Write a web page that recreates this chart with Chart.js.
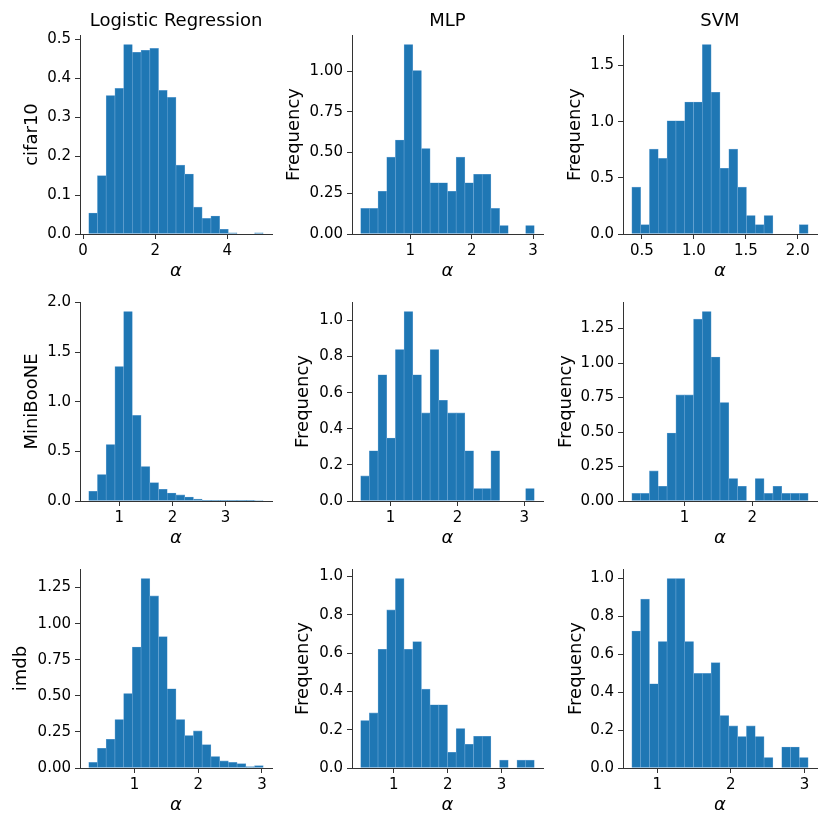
<!DOCTYPE html>
<html>
<head>
<meta charset="utf-8">
<script src="https://cdn.jsdelivr.net/npm/chart.js@4.4.1/dist/chart.umd.min.js"></script>
<style>
  body { margin: 0; background: #fff; }
  canvas { position: absolute; }
</style>
</head>
<body>
<script>
// column / row names
const models = ['Logistic Regression', 'MLP', 'SVM'];
const datasetNames = ['cifar10', 'MiniBooNE', 'imdb'];

// each histogram: [first bin edge, last bin edge], 20 bin heights, tick labels
const lrCifarBins = [0.155, 5.0];
const lrCifarHeights = [0.054, 0.150, 0.356, 0.374, 0.487, 0.467, 0.472, 0.477, 0.369, 0.351,
                        0.177, 0.154, 0.069, 0.040, 0.046, 0.012, 0.003, 0, 0, 0.003];
const lrCifarYTicks = ['0.0', '0.1', '0.2', '0.3', '0.4', '0.5'];
const lrCifarXTicks = ['0', '2', '4'];

const mlpCifarBins = [0.19, 3.02];
const mlpCifarHeights = [0.157, 0.157, 0.262, 0.472, 0.577, 1.164, 1.004, 0.525, 0.315, 0.315,
                         0.262, 0.472, 0.315, 0.367, 0.367, 0.157, 0.052, 0, 0, 0.052];
const mlpCifarYTicks = ['0.00', '0.25', '0.50', '0.75', '1.00'];
const mlpCifarXTicks = ['1', '2', '3'];

const svmCifarBins = [0.403, 2.10];
const svmCifarHeights = [0.417, 0.083, 0.756, 0.673, 1.009, 1.009, 1.176, 1.176, 1.688, 1.262,
                         0.586, 0.756, 0.417, 0.164, 0.083, 0.164, 0, 0, 0, 0.083];
const svmCifarYTicks = ['0.0', '0.5', '1.0', '1.5'];
const svmCifarXTicks = ['0.5', '1.0', '1.5', '2.0'];

const lrMiniBins = [0.423, 3.71];
const lrMiniHeights = [0.098, 0.266, 0.569, 1.354, 1.909, 0.862, 0.347, 0.185, 0.118, 0.081,
                       0.061, 0.040, 0.020, 0.008, 0.004, 0.003, 0.002, 0.001, 0.001, 0.005];
const lrMiniYTicks = ['0.0', '0.5', '1.0', '1.5', '2.0'];
const lrMiniXTicks = ['1', '2', '3'];

const mlpMiniBins = [0.554, 3.149];
const mlpMiniHeights = [0.139, 0.278, 0.699, 0.349, 0.839, 1.050, 0.699, 0.488, 0.839, 0.558,
                        0.488, 0.488, 0.278, 0.069, 0.069, 0.278, 0, 0, 0, 0.069];
const mlpMiniYTicks = ['0.0', '0.2', '0.4', '0.6', '0.8', '1.0'];
const mlpMiniXTicks = ['1', '2', '3'];

const svmMiniBins = [0.223, 2.827];
const svmMiniHeights = [0.055, 0.055, 0.218, 0.107, 0.493, 0.769, 0.769, 1.318, 1.374, 1.044,
                        0.714, 0.163, 0.107, 0, 0.163, 0.055, 0.107, 0.055, 0.055, 0.055];
const svmMiniYTicks = ['0.00', '0.25', '0.50', '0.75', '1.00', '1.25'];
const svmMiniXTicks = ['1', '2'];

const lrImdbBins = [0.279, 3.02];
const lrImdbHeights = [0.039, 0.137, 0.199, 0.336, 0.516, 0.838, 1.313, 1.192, 0.910, 0.549,
                       0.336, 0.225, 0.257, 0.162, 0.079, 0.049, 0.039, 0.030, 0.009, 0.016];
const lrImdbYTicks = ['0.00', '0.25', '0.50', '0.75', '1.00', '1.25'];
const lrImdbXTicks = ['1', '2', '3'];

const mlpImdbBins = [0.385, 3.609];
const mlpImdbHeights = [0.248, 0.288, 0.620, 0.826, 0.990, 0.620, 0.660, 0.412, 0.330, 0.330,
                        0.082, 0.206, 0.124, 0.166, 0.166, 0, 0.041, 0, 0.041, 0.041];
const mlpImdbYTicks = ['0.0', '0.2', '0.4', '0.6', '0.8', '1.0'];
const mlpImdbXTicks = ['1', '2', '3'];

const svmImdbBins = [0.654, 3.05];
const svmImdbHeights = [0.723, 0.891, 0.444, 0.667, 1.000, 1.000, 0.667, 0.499, 0.499, 0.556,
                        0.277, 0.222, 0.166, 0.222, 0.166, 0.055, 0, 0.111, 0.111, 0.055];
const svmImdbYTicks = ['0.0', '0.2', '0.4', '0.6', '0.8', '1.0'];
const svmImdbXTicks = ['1', '2', '3'];

const panels = [
    { bins: lrCifarBins, heights: lrCifarHeights, yTicks: lrCifarYTicks, xTicks: lrCifarXTicks },
    { bins: mlpCifarBins, heights: mlpCifarHeights, yTicks: mlpCifarYTicks, xTicks: mlpCifarXTicks },
    { bins: svmCifarBins, heights: svmCifarHeights, yTicks: svmCifarYTicks, xTicks: svmCifarXTicks },
    { bins: lrMiniBins, heights: lrMiniHeights, yTicks: lrMiniYTicks, xTicks: lrMiniXTicks },
    { bins: mlpMiniBins, heights: mlpMiniHeights, yTicks: mlpMiniYTicks, xTicks: mlpMiniXTicks },
    { bins: svmMiniBins, heights: svmMiniHeights, yTicks: svmMiniYTicks, xTicks: svmMiniXTicks },
    { bins: lrImdbBins, heights: lrImdbHeights, yTicks: lrImdbYTicks, xTicks: lrImdbXTicks },
    { bins: mlpImdbBins, heights: mlpImdbHeights, yTicks: mlpImdbYTicks, xTicks: mlpImdbXTicks },
    { bins: svmImdbBins, heights: svmImdbHeights, yTicks: svmImdbYTicks, xTicks: svmImdbXTicks }
];

// page layout (pixels)
const colSpine = [80, 352, 623];
const colWidth = [192, 191, 194];
const rowTop = [35, 302, 569];
const plotHeight = 199;
const yAxisWidth = 80;
const xAxisHeight = 50;
const topSpace = 30;
const rightSpace = 10;
// where the y label sits, measured from the left of each panel's canvas
const yLabelPad = [21.2, 11.2, 21.2,
                   21.2, 20.2, 12.2,
                   10.5, 20.5, 22.2];

const FONT = 'DejaVu Sans';
const AXIS_COLOR = '#333';
const LABEL_SIZE = 18;
const TICK_SIZE = 15;
Chart.defaults.font.family = FONT;
Chart.defaults.color = '#000';

function drawPanel(k) {
    const r = Math.floor(k / 3);
    const c = k % 3;
    const p = panels[k];

    const canvas = document.createElement('canvas');
    canvas.width = yAxisWidth + colWidth[c] + rightSpace;
    canvas.height = topSpace + plotHeight + xAxisHeight;
    canvas.style.left = (colSpine[c] - yAxisWidth) + 'px';
    canvas.style.top = (rowTop[r] - topSpace) + 'px';
    document.body.appendChild(canvas);

    const lo = p.bins[0], hi = p.bins[1];
    const n = p.heights.length;
    const w = (hi - lo) / n;
    const points = p.heights.map((h, i) => ({ x: lo + (i + 0.5) * w, y: h }));

    // matplotlib-like 5% margins
    const xMin = lo - 0.05 * (hi - lo);
    const xMax = hi + 0.05 * (hi - lo);
    const yMax = Math.max(...p.heights) * 1.05;

    new Chart(canvas.getContext('2d'), {
        type: 'bar',
        data: {
            datasets: [{
                data: points,
                backgroundColor: '#1f77b4',
                borderColor: '#6aa5d4',
                borderWidth: 0.6,
                borderSkipped: false,
                barPercentage: 1,
                categoryPercentage: 1
            }]
        },
        options: {
            responsive: false,
            animation: false,
            layout: {
                padding: { top: r === 0 ? 0 : topSpace, right: rightSpace, left: 0, bottom: 0 }
            },
            plugins: {
                legend: { display: false },
                tooltip: { enabled: false },
                title: {
                    display: r === 0,
                    text: models[c],
                    fullSize: false,
                    color: '#000',
                    font: { family: FONT, size: LABEL_SIZE, weight: 'normal' },
                    padding: { top: 5.8, bottom: 2.6 }
                }
            },
            scales: {
                x: {
                    type: 'linear',
                    min: xMin,
                    max: xMax,
                    offset: false,
                    grid: {
                        offset: false,
                        drawOnChartArea: false,
                        drawTicks: true,
                        tickLength: 5,
                        tickColor: AXIS_COLOR
                    },
                    border: { display: true, color: AXIS_COLOR, width: 1 },
                    afterBuildTicks: (scale) => {
                        scale.ticks = p.xTicks.map(s => ({ value: parseFloat(s) }));
                    },
                    ticks: {
                        font: { size: TICK_SIZE },
                        color: '#000',
                        padding: 3,
                        maxRotation: 0,
                        callback: (v, i) => p.xTicks[i]
                    },
                    title: {
                        display: true,
                        text: 'α',
                        color: '#000',
                        font: { family: FONT, size: LABEL_SIZE, style: 'italic' },
                        padding: { top: 0, bottom: 2.2 }
                    },
                    afterFit: (scale) => { scale.height = xAxisHeight; }
                },
                y: {
                    type: 'linear',
                    min: 0,
                    max: yMax,
                    grid: {
                        drawOnChartArea: false,
                        drawTicks: true,
                        tickLength: 5,
                        tickColor: AXIS_COLOR
                    },
                    border: { display: true, color: AXIS_COLOR, width: 1 },
                    afterBuildTicks: (scale) => {
                        scale.ticks = p.yTicks.map(s => ({ value: parseFloat(s) }));
                    },
                    ticks: {
                        font: { size: TICK_SIZE },
                        color: '#000',
                        padding: 4,
                        callback: (v, i) => p.yTicks[i]
                    },
                    title: {
                        display: true,
                        text: c === 0 ? datasetNames[r] : 'Frequency',
                        color: '#000',
                        font: { family: FONT, size: LABEL_SIZE },
                        padding: { top: yLabelPad[k], bottom: 0 }
                    },
                    afterFit: (scale) => { scale.width = yAxisWidth; }
                }
            }
        }
    });
}

for (let k = 0; k < panels.length; k++) {
    drawPanel(k);
}
</script>
</body>
</html>
